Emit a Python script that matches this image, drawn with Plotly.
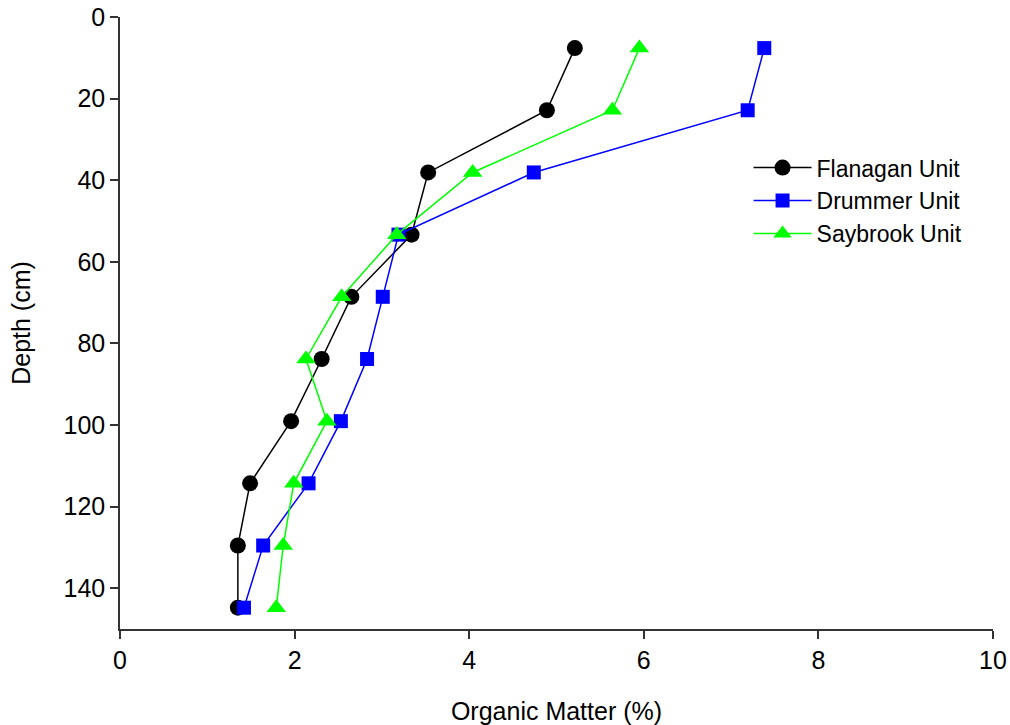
import plotly.graph_objects as go

depth = [7.62, 22.86, 38.1, 53.34, 68.58, 83.82, 99.06, 114.3, 129.54, 144.78]
flanagan = [5.21, 4.89, 3.53, 3.34, 2.65, 2.31, 1.96, 1.49, 1.35, 1.35]
drummer = [7.38, 7.19, 4.74, 3.19, 3.01, 2.83, 2.53, 2.16, 1.64, 1.42]
saybrook = [5.95, 5.64, 4.04, 3.17, 2.54, 2.13, 2.37, 1.99, 1.87, 1.79]

x_ticks = [0, 2, 4, 6, 8, 10]
y_ticks = [0, 20, 40, 60, 80, 100, 120, 140]

FONT = "Liberation Sans, Arial, sans-serif"
FS = 25

fig = go.Figure()
fig.add_trace(go.Scatter(x=flanagan, y=depth, mode="lines+markers", name="Flanagan Unit",
                         line=dict(color="black", width=1.5),
                         marker=dict(symbol="circle", size=16, color="black")))
fig.add_trace(go.Scatter(x=drummer, y=depth, mode="lines+markers", name="Drummer Unit",
                         line=dict(color="#0000ff", width=1.5),
                         marker=dict(symbol="square", size=14, color="#0000ff")))
fig.add_trace(go.Scatter(x=saybrook, y=depth, mode="lines+markers", name="Saybrook Unit",
                         line=dict(color="#00ff00", width=1.5),
                         marker=dict(symbol="triangle-up", size=17, color="#00ff00")))

fig.update_layout(
    width=1010, height=725,
    margin=dict(l=120, r=17, t=17, b=96),
    paper_bgcolor="white", plot_bgcolor="white",
    font=dict(family=FONT, size=FS, color="black"),
    showlegend=True,
    legend=dict(x=0.72, y=0.789, xanchor="left", yanchor="top",
                bgcolor="rgba(0,0,0,0)", font=dict(size=FS - 2),
                tracegroupgap=0, itemwidth=58),
    xaxis=dict(range=[0, 10], tickvals=x_ticks, showgrid=False, zeroline=False,
               showline=True, linecolor="#333333", linewidth=1.5,
               ticks="outside", ticklen=8, tickcolor="#333333", tickwidth=1.5,
               tickfont=dict(size=FS), automargin=False,
               title=dict(text="Organic Matter (%)", font=dict(size=FS), standoff=30)),
    yaxis=dict(range=[150, 0], tickvals=y_ticks, showgrid=False, zeroline=False,
               showline=True, linecolor="#333333", linewidth=1.5,
               ticks="outside", ticklen=8, tickcolor="#333333", tickwidth=1.5,
               tickfont=dict(size=FS), automargin=False,
               title=dict(text="Depth (cm)", font=dict(size=FS), standoff=26)),
)

fig.write_html("out.html")
